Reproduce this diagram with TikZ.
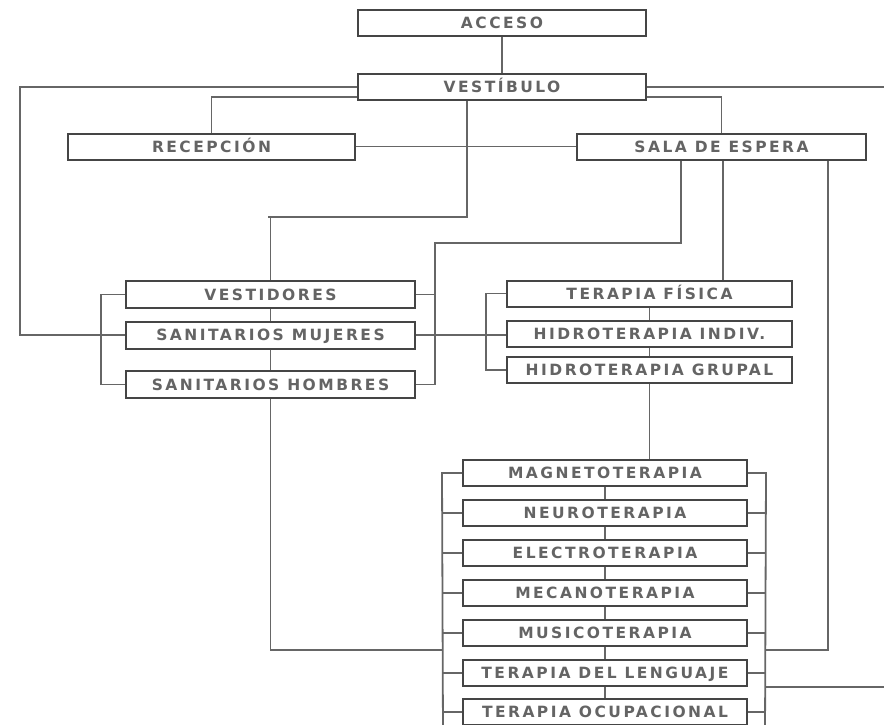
\documentclass[tikz,border=0pt]{standalone}
\usepackage{fontspec}
\usetikzlibrary{calc}
\newfontfamily\boxfont[LetterSpace=16]{DejaVu Sans}
\definecolor{boxline}{HTML}{454545}
\definecolor{conn}{HTML}{666666}
\definecolor{txt}{HTML}{646464}
\tikzset{
  roombox/.style={draw=boxline, line width=2pt, fill=white, inner sep=0pt,
    minimum height=26pt, text=txt, text height=11.3pt, text depth=0pt,
    font={\boxfont\bfseries\fontsize{15.5pt}{17pt}\selectfont}},
  link/.style={draw=conn, line width=1.8pt}
}
\begin{document}
\begin{tikzpicture}[x=1pt,y=-1pt]
\useasboundingbox (0,0) rectangle (884,725);
\clip (0,0) rectangle (884,725);
% top
\node[roombox, minimum width=288pt] (acceso) at (502,23) {ACCESO};
\node[roombox, minimum width=288pt] (vest) at (502,87) {VESTÍBULO};
\node[roombox, minimum width=287pt] (recep) at (211.5,146.5) {RECEPCIÓN};
\node[roombox, minimum width=289pt] (sala) at (721.5,146.5) {SALA DE ESPERA};
% left group
\node[roombox, minimum width=289pt, minimum height=27pt] (vestid) at (270.5,294.5) {VESTIDORES};
\node[roombox, minimum width=289pt, minimum height=27pt] (mujeres) at (270.5,335) {SANITARIOS MUJERES};
\node[roombox, minimum width=289pt, minimum height=27pt] (hombres) at (270.5,384.5) {SANITARIOS HOMBRES};
% right group
\node[roombox, minimum width=285pt] (tf) at (649.5,293.5) {TERAPIA FÍSICA};
\node[roombox, minimum width=285pt] (indiv) at (649.5,334) {HIDROTERAPIA INDIV.};
\node[roombox, minimum width=285pt] (grupal) at (649.5,370) {HIDROTERAPIA GRUPAL};
% therapies
\node[roombox, minimum width=284pt] (magneto) at (605,473) {MAGNETOTERAPIA};
\node[roombox, minimum width=284pt] (neuro) at (605,513) {NEUROTERAPIA};
\node[roombox, minimum width=284pt] (electro) at (605,553) {ELECTROTERAPIA};
\node[roombox, minimum width=284pt] (mecano) at (605,593) {MECANOTERAPIA};
\node[roombox, minimum width=284pt] (musico) at (605,633) {MUSICOTERAPIA};
\node[roombox, minimum width=284pt] (lenguaje) at (605,673) {TERAPIA DEL LENGUAJE};
\node[roombox, minimum width=284pt] (ocup) at (605,712) {TERAPIA OCUPACIONAL};
% free ends
\coordinate (vestR) at (890,87);
\coordinate (therR) at (890,687);
\coordinate (leftBot) at (443,735);
\coordinate (rightBot) at (765,735);
\coordinate (midBot) at (605,735);
% connectors
\draw[link] (acceso.south) -- (vest.north);
\draw[link] (vest.west) -| (20,335) -- (mujeres.west);
\draw[link] ($(vest.west)+(0,10)$) -| (recep.north);
\draw[link] (vest.east) -- (vestR);
\draw[link] ($(vest.east)+(0,10)$) -| (sala.north);
\draw[link] ($(vest.south)+(-35,0)$) |- (268,217) -| (vestid.north);
\draw[link] (recep.east) -- (sala.west);
\draw[link] ($(sala.south)+(-40.5,0)$) |- (435,243) |- (hombres.east);
\draw[link] (vestid.east) -- (435,294.5);
\draw[link] ($(sala.south)+(1.5,0)$) -- ($(sala.south |- tf.north)+(1.5,0)$);
\draw[link] ($(sala.south)+(106.5,0)$) |- (765,650);
% left group
\draw[link] (vestid.west) -- ++(-24,0) |- (hombres.west);
\draw[link] (vestid.south) -- (mujeres.north);
\draw[link] (mujeres.south) -- (hombres.north);
\draw[link] (hombres.south) |- (443,650);
\draw[link] (mujeres.east) -- (mujeres.east -| indiv.west);
% right group
\draw[link] (tf.west) -- ++(-20,0) |- (grupal.west);
\draw[link] (tf.south) -- (indiv.north);
\draw[link] (indiv.south) -- (grupal.north);
\draw[link] (grupal.south) -- (grupal.south |- magneto.north);
% therapies
\draw[link] (magneto.west) -- ++(-20,0) -- (leftBot);
\draw[link] (magneto.east) -- ++(18,0) -- (rightBot);
\foreach \n in {neuro,electro,mecano,musico,lenguaje,ocup}{
  \draw[link] (\n.west) -- ++(-20,0);
  \draw[link] (\n.east) -- ++(18,0);
}
\draw[link] (magneto.south) -- (neuro.north);
\draw[link] (neuro.south) -- (electro.north);
\draw[link] (electro.south) -- (mecano.north);
\draw[link] (mecano.south) -- (musico.north);
\draw[link] (musico.south) -- (lenguaje.north);
\draw[link] (lenguaje.south) -- (ocup.north);
\draw[link] (ocup.south) -- (midBot);
\draw[link] (765,687) -- (therR);
\end{tikzpicture}
\end{document}
